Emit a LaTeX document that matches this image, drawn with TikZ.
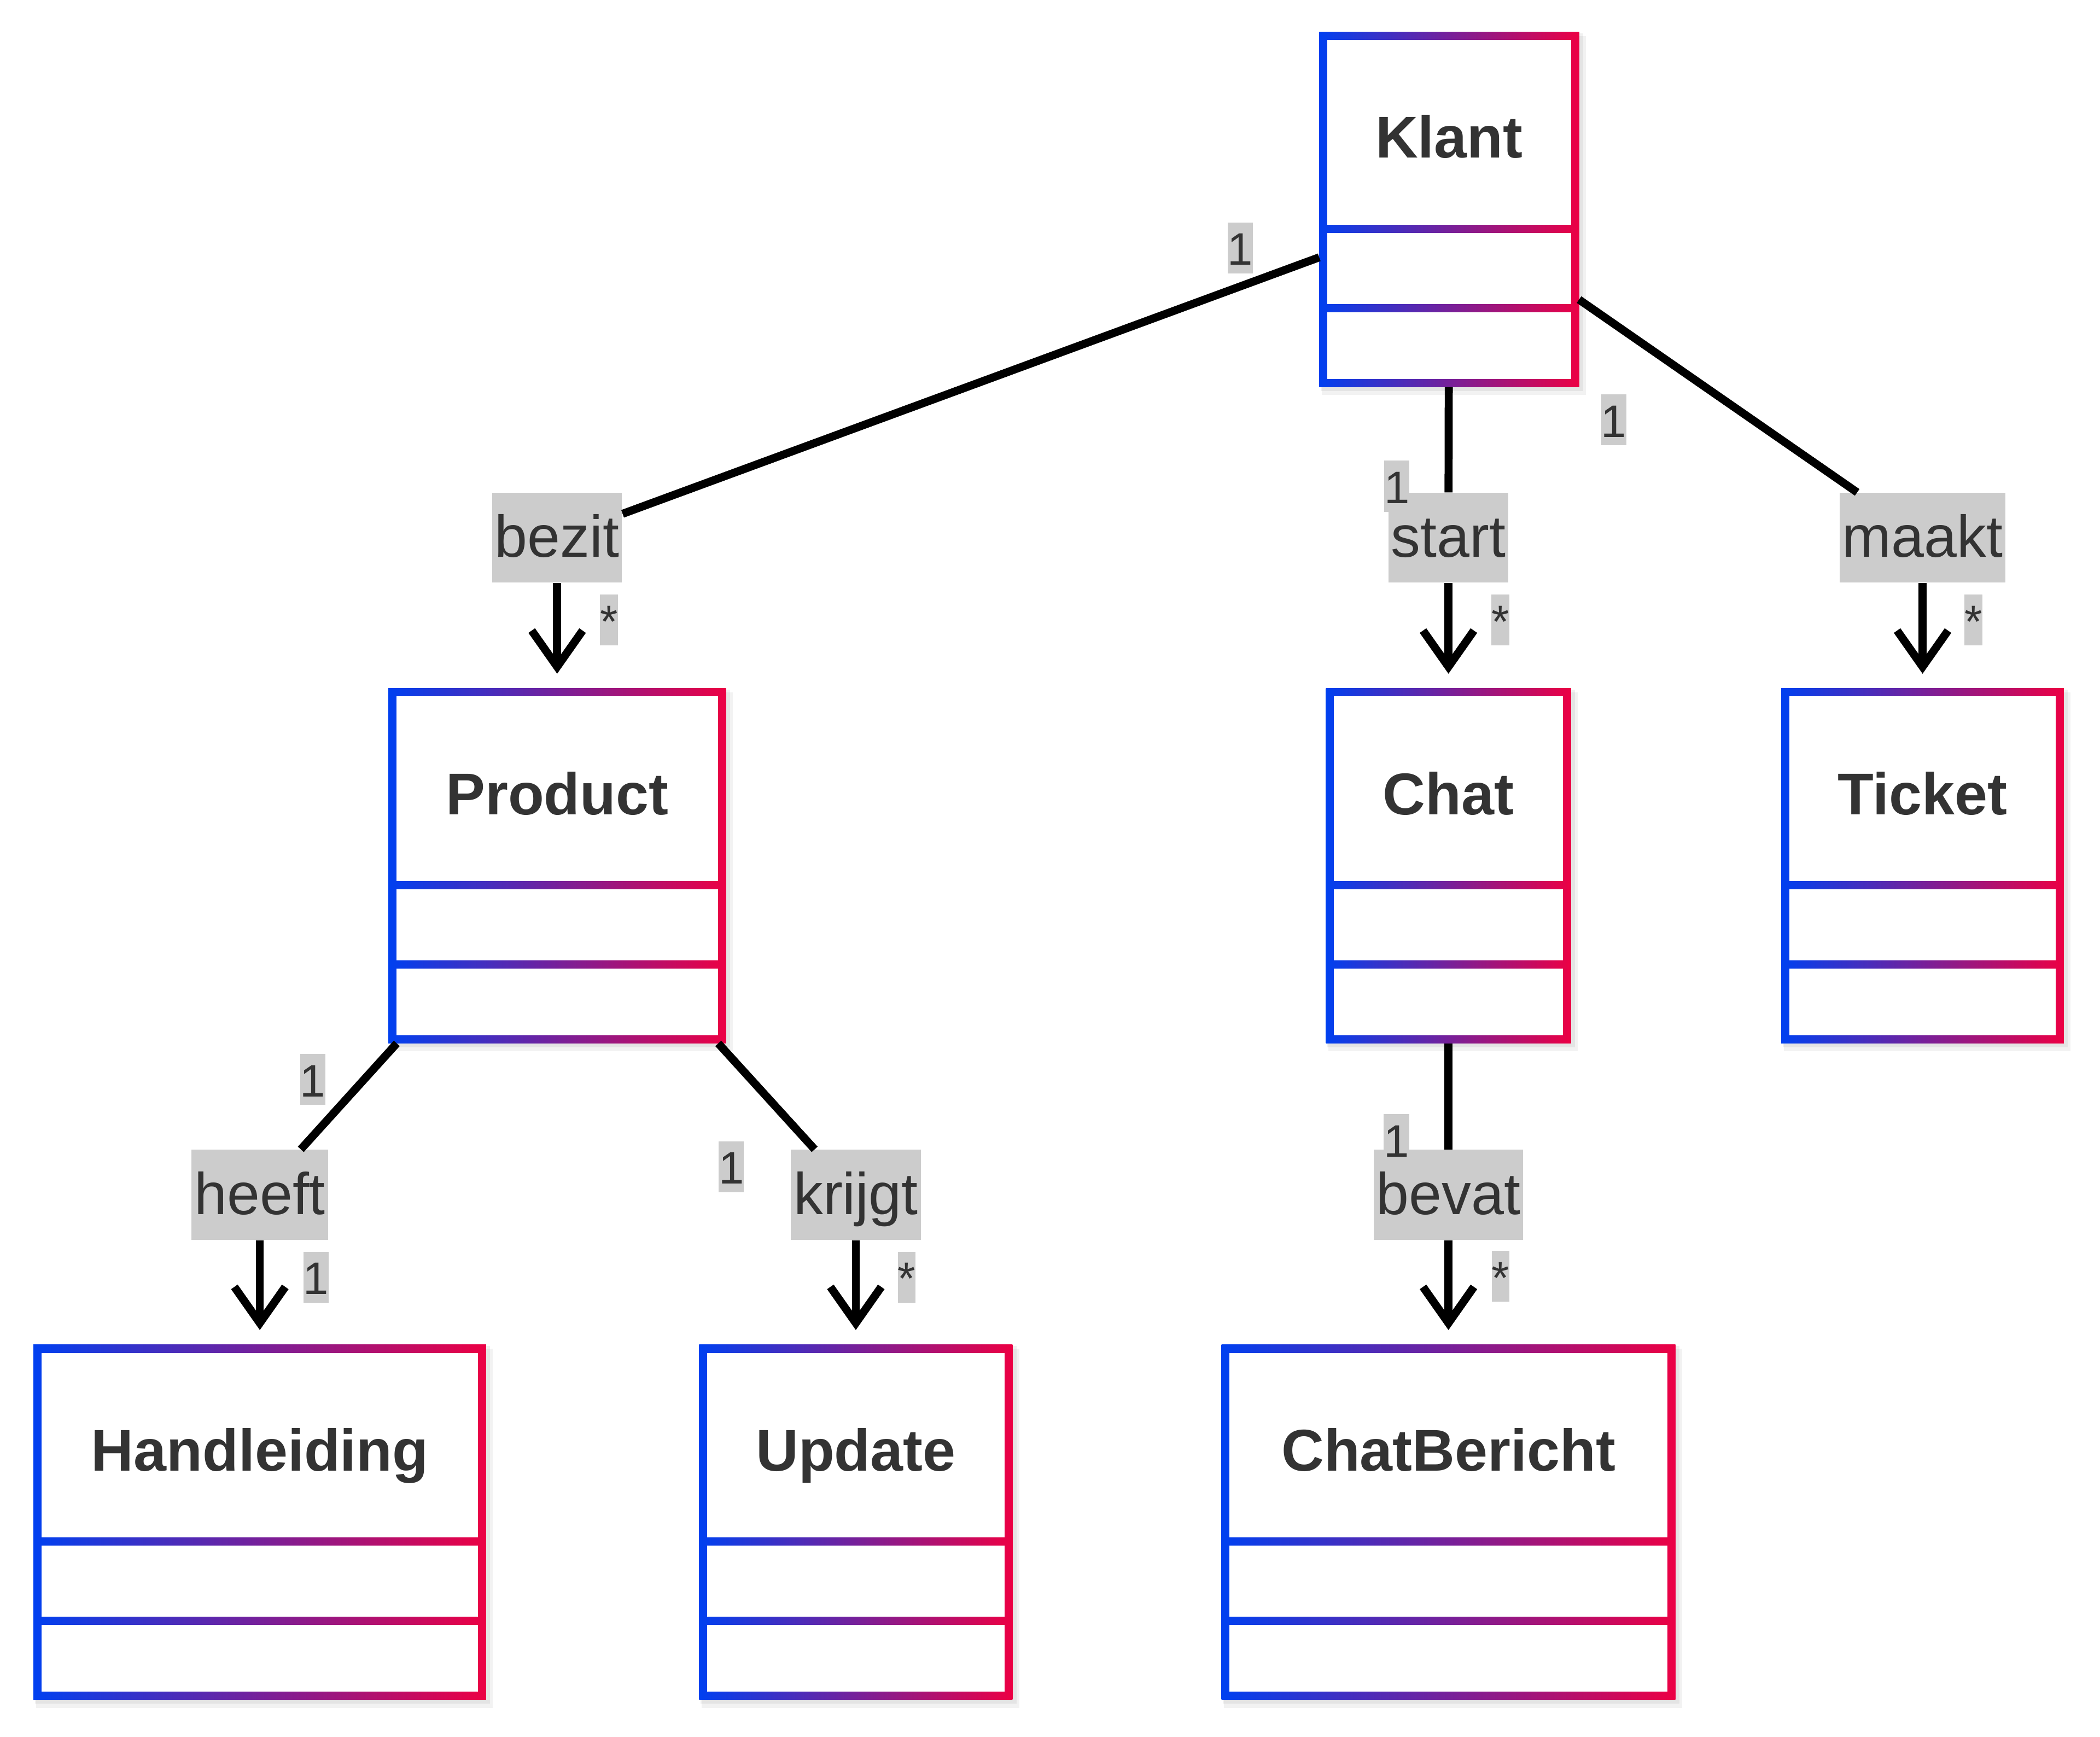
\documentclass[tikz,border=0pt]{standalone}
\usepackage{fontspec}
\setmainfont{Liberation Sans}
\usetikzlibrary{arrows.meta}
\definecolor{ublue}{RGB}{0,64,240}
\definecolor{ured}{RGB}{236,0,68}
\definecolor{tekst}{RGB}{51,51,51}
\definecolor{labelgrijs}{RGB}{204,204,204}

% name, left, top, width, title
\newcommand{\klasse}[5]{%
  \fill[black,opacity=0.05] (#2+2,#3+3) rectangle ++(#4+3,265+3);
  \fill[black,opacity=0.06] (#2+1,#3+1) rectangle ++(#4+2,265+2);
  \shade[left color=ublue,right color=ured] (#2,#3) rectangle ++(#4,265);
  \fill[white] (#2+6,#3+6) rectangle (#2+#4-6,#3+144);
  \fill[white] (#2+6,#3+150) rectangle (#2+#4-6,#3+203);
  \fill[white] (#2+6,#3+209) rectangle (#2+#4-6,#3+259);
  \node[klasnaam] at (#2+#4/2,#3+94) {#5};
  \node[klasvak,minimum width={#4*0.5pt}] (#1) at (#2+#4/2,#3+132.5) {};
}

\begin{document}
\begin{tikzpicture}[x=0.5pt,y=-0.5pt,
  klasnaam/.style={anchor=base,text=tekst,font=\fontsize{22}{26}\selectfont\bfseries,inner sep=0},
  klasvak/.style={inner sep=0,outer sep=0,minimum height=132.5pt},
  relatie/.style={fill=labelgrijs,text=tekst,font=\fontsize{22}{26}\selectfont,inner xsep=1pt,inner ysep=0,text height=24pt,text depth=9.5pt},
  mult/.style={fill=labelgrijs,text=tekst,font=\fontsize{17}{20}\selectfont,inner sep=0,text height=16pt,text depth=3pt},
  lijn/.style={line width=3pt},
  pijl/.style={lijn,-{Straight Barb[length=13.5pt,width=19pt]},shorten >=5.5pt}]
\useasboundingbox (0,0) rectangle (1568,1296.5);

\klasse{klant}{985}{24}{194}{Klant}
\klasse{product}{290}{514}{252}{Product}
\klasse{chat}{990}{514}{183}{Chat}
\klasse{ticket}{1330}{514}{211}{Ticket}
\klasse{handleiding}{25}{1004}{338}{Handleiding}
\klasse{update}{522}{1004}{234}{Update}
\klasse{chatbericht}{912}{1004}{339}{ChatBericht}

\node[relatie] (bezit) at (416,401.5) {bezit};
\node[relatie] (start) at (1081.5,401.5) {start};
\node[relatie] (maakt) at (1435.5,401.5) {maakt};
\node[relatie] (heeft) at (194,892) {heeft};
\node[relatie] (krijgt) at (639,892) {krijgt};
\node[relatie] (bevat) at (1081.5,892) {bevat};

\draw[lijn] (klant) -- (bezit);
\draw[pijl] (bezit) -- (product);
\draw[lijn] (klant) -- (start);
\draw[pijl] (start) -- (chat);
\draw[lijn] (klant) -- (maakt);
\draw[pijl] (maakt) -- (ticket);
\draw[lijn] (product) -- (heeft);
\draw[pijl] (heeft) -- (handleiding);
\draw[lijn] (product) -- (krijgt);
\draw[pijl] (krijgt) -- (update);
\draw[lijn] (chat) -- (bevat);
\draw[pijl] (bevat) -- (chatbericht);

\node[mult] at (926,185) {1};
\node[mult] at (454.7,462.7) {*};
\node[mult] at (1043,363) {1};
\node[mult] at (1120.3,463) {*};
\node[mult] at (1205,313.5) {1};
\node[mult] at (1473.5,463) {*};
\node[mult] at (233.6,806) {1};
\node[mult] at (236,953.5) {1};
\node[mult] at (546,871) {1};
\node[mult] at (677,953.5) {*};
\node[mult] at (1042.7,850.7) {1};
\node[mult] at (1120.5,953) {*};
\end{tikzpicture}
\end{document}
